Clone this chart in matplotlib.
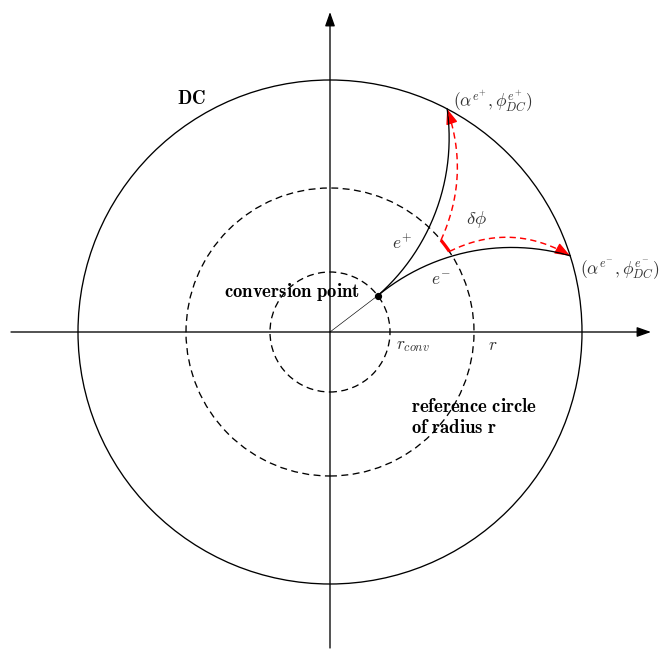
import numpy as np
import matplotlib
matplotlib.use("Agg")
import matplotlib.pyplot as plt
from matplotlib.patches import FancyArrowPatch, Circle

plt.rcParams['mathtext.fontset'] = 'cm'
plt.rcParams['font.family'] = ['DejaVu Serif']
plt.rcParams['lines.scale_dashes'] = False

# ---- diagram parameters (pixel-like units, origin at circle centre) ----
R_dc = 252.0          # detector (DC) radius
R_ref = 144.0         # reference circle radius r
R_conv = 60.0         # conversion radius
phi_conv = 37.3       # conversion point azimuth (deg)
phi_plus = 62.3       # e+ hit on DC (deg)
phi_minus = 17.6      # e- hit on DC (deg)
R_track = 210.0       # track curvature radius
tick_angles = [34.0, 39.6]   # red mark on reference circle (deg)
bend_up = 0.2         # curvature of red dashed arcs
bend_right = -0.27

labels = {
    'dc': r'$\mathbf{DC}$',
    'plus': r'$(\alpha^{e^{+}},\phi^{e^{+}}_{DC})$',
    'minus': r'$(\alpha^{e^{-}},\phi^{e^{-}}_{DC})$',
    'dphi': r'$\delta\phi$',
    'ep': r'$e^{+}$',
    'em': r'$e^{-}$',
    'conv': r'$\mathbf{conversion\ point}$',
    'rconv': r'$r_{conv}$',
    'r': r'$r$',
    'ref1': r'$\mathbf{reference\ circle}$',
    'ref2': r'$\mathbf{of\ radius\ r}$',
}


def pol(r, deg):
    a = np.deg2rad(deg)
    return np.array([r * np.cos(a), r * np.sin(a)])


def track(p0, p1, R, left):
    m = (p0 + p1) / 2
    d = p1 - p0
    L = np.linalg.norm(d)
    n = np.array([-d[1], d[0]]) / L
    if not left:
        n = -n
    h = np.sqrt(R ** 2 - (L / 2) ** 2)
    c = m + n * h
    a0 = np.arctan2(*(p0 - c)[::-1])
    a1 = np.arctan2(*(p1 - c)[::-1])
    da = (a1 - a0 + np.pi) % (2 * np.pi) - np.pi
    t = a0 + np.linspace(0, da, 200)
    return c[0] + R * np.cos(t), c[1] + R * np.sin(t)


def bez(s, e, rad):
    m = (s + e) / 2
    dx, dy = e - s
    c = np.array([m[0] + rad * dy, m[1] - rad * dx])
    t = np.linspace(0, 1, 200)[:, None]
    return (1 - t) ** 2 * s + 2 * (1 - t) * t * c + t ** 2 * e


fig = plt.figure(figsize=(6.68, 6.49), dpi=100)
ax = fig.add_axes([0, 0, 1, 1])
ax.set_xlim(-330, 338)
ax.set_ylim(-317, 332)
ax.set_aspect('equal')
ax.axis('off')

lw = 0.95
# axes
ax.add_patch(FancyArrowPatch((-319, 0), (321, 0), arrowstyle='-|>,head_length=8.5,head_width=3',
                             mutation_scale=1, color='black', lw=lw, shrinkA=0, shrinkB=0))
ax.add_patch(FancyArrowPatch((0, -316), (0, 320), arrowstyle='-|>,head_length=8.5,head_width=3',
                             mutation_scale=1, color='black', lw=lw, shrinkA=0, shrinkB=0))

# circles
ax.add_patch(Circle((0, 0), R_dc, fill=False, ec='black', lw=lw))
ax.add_patch(Circle((0, 0), R_ref, fill=False, ec='black', lw=lw, ls=(0, (5, 3.2))))
ax.add_patch(Circle((0, 0), R_conv, fill=False, ec='black', lw=lw, ls=(0, (5, 3.2))))

pc = pol(R_conv, phi_conv)
pp = pol(R_dc, phi_plus)
pm = pol(R_dc, phi_minus)

ax.plot([0, pc[0]], [0, pc[1]], color='black', lw=0.45)
x, y = track(pc, pp, R_track, True)
ax.plot(x, y, color='black', lw=lw)
x, y = track(pc, pm, R_track, False)
ax.plot(x, y, color='black', lw=lw)
ax.plot(pc[0], pc[1], 'o', color='black', ms=4.2)

# red mark on reference circle
ta = np.linspace(tick_angles[0], tick_angles[1], 20)
ax.plot(R_ref * np.cos(np.deg2rad(ta)), R_ref * np.sin(np.deg2rad(ta)), color='red', lw=2.3,
        solid_capstyle='butt')

for s, e, rad in [(pol(R_ref, tick_angles[1]), pp, bend_up),
                  (pol(R_ref, tick_angles[0]), pm, bend_right)]:
    b = bez(s, e, rad)
    ax.plot(b[:-8, 0], b[:-8, 1], color='red', lw=1.05, ls=(0, (4.5, 3)))
    ax.add_patch(FancyArrowPatch(tuple(b[-12]), tuple(b[-1]),
                                 arrowstyle='-|>,head_length=9.2,head_width=3.5',
                                 mutation_scale=1, color='red', lw=1.0, shrinkA=0, shrinkB=0))

fs = 12.5
fb = 13.5
tc = '#333333'
ax.text(-139, 233, labels['dc'], fontsize=fb, ha='center', va='center')
ax.text(163, 231, labels['plus'], fontsize=fs, ha='center', va='center', color=tc)
ax.text(290, 62, labels['minus'], fontsize=fs, ha='center', va='center', color=tc)
ax.text(147, 113, labels['dphi'], fontsize=fb, ha='center', va='center', color=tc)
ax.text(72, 88, labels['ep'], fontsize=fs, ha='center', va='center', color=tc)
ax.text(111, 52, labels['em'], fontsize=fs, ha='center', va='center', color=tc)
ax.text(-37.5, 40, labels['conv'], fontsize=fb, ha='center', va='center')
ax.text(83, -14, labels['rconv'], fontsize=fs, ha='center', va='center', color=tc)
ax.text(163, -13, labels['r'], fontsize=fs, ha='center', va='center', color=tc)
ax.text(81, -75, labels['ref1'], fontsize=fb, ha='left', va='center')
ax.text(81, -96, labels['ref2'], fontsize=fb, ha='left', va='center')

fig.savefig('out.png', dpi=100)
